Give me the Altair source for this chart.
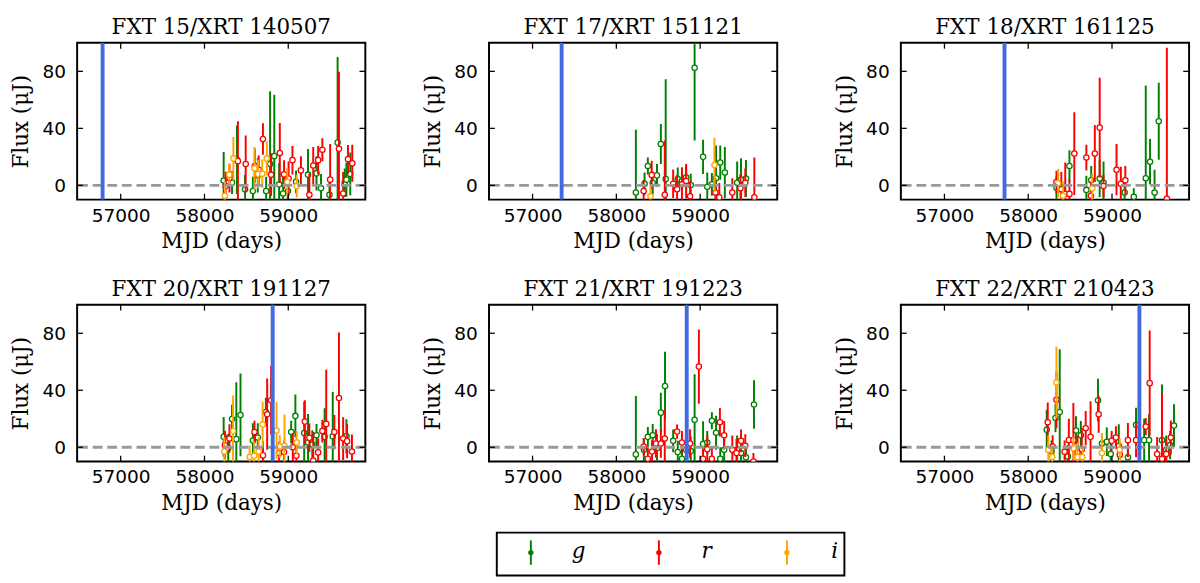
import altair as alt
import pandas as pd

# (MJD, flux in uJy, 1-sigma error) per field and band
FXT15_G = [
    (58229, 3.4, 20), (58329, 2.0, 8), (58388, 18.0, 24), (58484, -2.7, 10),
    (58578, -4.0, 10), (58636, 7.0, 12), (58736, -4.0, 10), (58783, 15.0, 51),
    (58833, 20.5, 43), (58891, 0.7, 15), (58938, -5.7, 12), (58996, -4.0, 10),
    (59093, 2.5, 8), (59236, 7.5, 18), (59337, 8.4, 12), (59391, -2.0, 10),
    (59492, -6.6, 12), (59589, 30.0, 60), (59674, 1.8, 10), (59694, 4.0, 12),
    (59740, 8.0, 15),
]
FXT15_R = [
    (58252, -0.5, 10), (58298, 5.0, 10), (58399, 17.0, 28), (58492, 15.0, 20),
    (58601, 13.6, 12), (58647, 11.0, 10), (58698, 32.5, 11), (58795, 7.5, 15),
    (58899, 22.7, 21), (58950, 7.7, 10), (59004, 4.8, 12), (59050, 17.7, 10),
    (59151, 10.5, 10), (59252, -6.6, 15), (59298, 13.9, 13), (59357, 17.7, 10),
    (59407, 25.0, 8), (59500, 4.0, 25), (59605, 25.7, 54), (59655, -5.7, 15),
    (59713, 18.4, 10), (59764, 15.5, 13),
]
FXT15_I = [
    (58244, -7.3, 10), (58295, 7.5, 8), (58345, 18.9, 15), (58597, 12.0, 15),
    (58640, 8.0, 10), (58690, 8.2, 10), (58744, 18.9, 12), (58988, 2.3, 10),
    (59101, -0.5, 8),
]

FXT17_G = [
    (58233, -5.0, 44), (58337, 1.1, 8), (58376, 13.6, 6), (58434, 1.8, 8),
    (58485, 7.0, 8), (58531, 29.0, 14), (58589, 4.5, 70), (58733, 4.5, 8),
    (58783, 3.0, 6), (58833, 5.7, 8), (58888, 0.2, 8), (58934, 82.5, 51),
    (59035, 20.0, 12), (59085, -1.0, 10), (59140, 0.7, 8), (59190, 5.0, 23),
    (59240, 16.0, 12), (59295, 9.0, 18), (59442, 1.8, 15), (59488, 4.0, 15),
    (59547, 4.8, 13),
]
FXT17_R = [
    (58326, -4.0, 8), (58422, 7.3, 10), (58578, -6.6, 38), (58678, 1.1, 10),
    (58725, -2.7, 10), (58783, 0.7, 12), (58833, 3.0, 12), (58880, -7.7, 10),
    (59182, -5.0, 10), (59229, -8.4, 10), (59384, -5.0, 10), (59481, -2.0, 10),
    (59539, 1.8, 10), (59647, -8.4, 28),
]
FXT17_I = [(58407, -7.7, 8), (59171, 14.3, 19)]

FXT18_G = [
    (58337, -1.6, 8), (58422, -6.6, 6), (58492, 13.6, 11), (58694, -3.2, 10),
    (58752, 3.6, 10), (58853, 4.8, 13), (58899, 1.8, 15), (59151, -5.0, 10),
    (59260, -8.0, 6), (59403, 5.0, 65), (59454, 16.6, 16), (59508, -5.0, 16),
    (59558, 45.0, 27),
]
FXT18_R = [
    (58337, 2.3, 8), (58395, -2.7, 12), (58442, -6.0, 22), (58492, -6.0, 10),
    (58550, 22.3, 29), (58694, 19.5, 9), (58748, -7.3, 10), (58795, 22.3, 20),
    (58853, 40.5, 35), (58899, -0.5, 8), (59054, 11.0, 18), (59105, 1.1, 12),
    (59159, 3.6, 10), (59655, -9.5, 106),
]
FXT18_I = [(58357, 1.4, 10), (58415, -7.3, 10), (58764, -2.0, 10)]

FXT20_G = [
    (58229, 7.3, 14), (58283, -0.7, 10), (58329, 19.8, 10), (58380, 5.7, 40),
    (58430, 22.7, 29), (58578, 4.8, 12), (58636, 6.8, 10), (58733, 24.8, 10),
    (59035, 10.7, 8), (59085, 22.0, 15), (59190, 10.0, 22), (59236, 3.4, 20),
    (59287, 2.0, 10), (59337, 8.4, 8), (59434, 7.3, 20), (59531, 7.7, 31),
    (59694, 7.7, 12),
]
FXT20_R = [
    (58244, 1.6, 10), (58298, 6.1, 10), (58597, 10.7, 8), (58698, -5.7, 10),
    (58748, 23.2, 25), (58795, 33.0, 24), (58891, -4.0, 8), (58950, -3.4, 8),
    (59054, 0.0, 10), (59097, -5.9, 8), (59198, 18.0, 15), (59252, 6.6, 10),
    (59298, -9.3, 20), (59357, -3.6, 10), (59407, 11.4, 8), (59453, 16.4, 38),
    (59550, 10.7, 12), (59605, 34.5, 46), (59655, 6.1, 15), (59702, 4.3, 12),
    (59760, -3.0, 12),
]
FXT20_I = [
    (58236, -3.0, 10), (58341, 11.4, 25), (58539, -6.8, 8), (58593, -5.9, 10),
    (58647, -3.0, 10), (58694, 16.0, 16), (58860, 11.8, 20), (58899, 0.5, 8),
    (58955, 1.0, 22), (59101, 3.4, 8),
]

FXT21_G = [
    (58233, -5.0, 41), (58329, -1.8, 8), (58376, 7.3, 7), (58434, 8.4, 8),
    (58485, -0.7, 10), (58531, 24.3, 14), (58581, 43.0, 24), (58678, 4.5, 8),
    (58733, -3.4, 8), (58783, -8.0, 6), (58833, -1.8, 8), (58888, -2.7, 10),
    (58934, 19.3, 32), (59035, 2.3, 16), (59085, 3.4, 8), (59140, 18.6, 6),
    (59190, 10.2, 12), (59240, -8.0, 8), (59287, -1.8, 10), (59442, -1.8, 10),
    (59488, -4.0, 10), (59547, -7.0, 8), (59643, 30.0, 17),
]
FXT21_R = [
    (58326, 0.5, 6), (58376, -8.0, 8), (58426, -3.0, 8), (58473, 2.7, 10),
    (58531, 2.7, 10), (58578, 6.1, 20), (58725, 11.0, 5), (58783, 3.4, 8),
    (58880, 2.7, 10), (58985, 56.6, 26), (59035, -8.0, 8), (59085, -1.4, 10),
    (59140, -8.0, 8), (59236, 17.5, 10), (59287, 8.4, 10), (59384, -1.8, 10),
    (59434, -4.0, 10), (59488, 4.5, 8), (59539, 1.1, 8), (59636, -10.0, 6),
]
FXT21_I = []

FXT22_G = [
    (58221, 12.3, 14), (58279, -3.0, 8), (58326, 20.5, 10), (58376, 24.8, 44),
    (58473, -6.4, 8), (58570, 11.8, 10), (58628, 8.4, 10), (58833, 33.0, 15),
    (58880, 2.7, 5), (58938, 3.9, 10), (58985, -4.8, 10), (59081, 1.1, 15),
    (59190, -7.0, 8), (59287, 15.7, 12), (59384, 5.0, 15), (59442, 5.0, 18),
    (59597, 5.0, 39), (59647, -1.8, 10), (59694, 1.6, 10), (59740, 15.2, 15),
]
FXT22_R = [
    (58233, 17.5, 14), (58291, 0.5, 8), (58337, 33.4, 20), (58434, -3.2, 8),
    (58485, 5.0, 15), (58539, 5.0, 26), (58589, -3.6, 12), (58640, -1.4, 15),
    (58686, 13.4, 12), (58744, 7.3, 25), (58841, 23.2, 13), (58996, 4.5, 7),
    (59047, 6.8, 8), (59093, -5.2, 8), (59190, 5.0, 12), (59287, 5.0, 12),
    (59403, 14.5, 6), (59450, 45.0, 37), (59539, -4.8, 12), (59597, -8.0, 46),
    (59647, -4.8, 10), (59702, 6.8, 12),
]
FXT22_I = [
    (58240, -1.8, 10), (58287, -6.8, 8), (58337, 45.5, 25), (58539, -0.7, 8),
    (58589, -6.8, 10), (58647, -6.8, 8), (58880, -4.0, 14), (59093, -1.8, 8),
]

TITLES = [
    "FXT 15/XRT 140507", "FXT 17/XRT 151121", "FXT 18/XRT 161125",
    "FXT 20/XRT 191127", "FXT 21/XRT 191223", "FXT 22/XRT 210423",
]
XRT_MJD = [56784, 57347, 57717, 58814, 58840, 59327]
PANEL_DATA = [
    (FXT15_G, FXT15_R, FXT15_I), (FXT17_G, FXT17_R, FXT17_I),
    (FXT18_G, FXT18_R, FXT18_I), (FXT20_G, FXT20_R, FXT20_I),
    (FXT21_G, FXT21_R, FXT21_I), (FXT22_G, FXT22_R, FXT22_I),
]

BANDS = ["g", "r", "i"]
BAND_COLORS = ["#008000", "#ff0000", "#ffa500"]
X_TICKS = [57000, 58000, 59000]
Y_TICKS = [0, 40, 80]

W, H = 296, 161
SERIF = "DejaVu Serif"
SANS = "DejaVu Sans"

x_scale = alt.Scale(domain=[56480, 59920], nice=False, zero=False)
y_scale = alt.Scale(domain=[-10, 100], nice=False, zero=False)
x_axis = alt.Axis(
    values=X_TICKS, format="d", ticks=False, tickSize=0, domain=False, grid=False,
    labelFont=SANS, labelFontSize=19, labelColor="black", labelPadding=7,
    title="MJD (days)", titleFont=SERIF, titleFontSize=22, titleFontWeight="normal",
    titleColor="black", titlePadding=6,
)
y_axis = alt.Axis(
    values=Y_TICKS, ticks=False, tickSize=0, domain=False, grid=False,
    labelFont=SANS, labelFontSize=19, labelColor="black", labelPadding=12,
    title="Flux (μJ)", titleFont=SERIF, titleFontSize=22, titleFontWeight="normal",
    titleColor="black", titlePadding=10,
)


def xq(field):
    return alt.X(field, type="quantitative", scale=x_scale, axis=x_axis)


def yq(field):
    return alt.Y(field, type="quantitative", scale=y_scale, axis=y_axis)


def panel(title, xrt_mjd, band_rows):
    layers = []
    for band, color, rows in zip(BANDS, BAND_COLORS, band_rows):
        if not rows:
            continue
        df = pd.DataFrame(rows, columns=["mjd", "flux", "err"])
        df["lo"] = df["flux"] - df["err"]
        df["hi"] = df["flux"] + df["err"]
        bars = alt.Chart(df).mark_rule(color=color, strokeWidth=2, clip=True).encode(
            x=xq("mjd"), y=yq("lo"), y2="hi"
        )
        dots = alt.Chart(df).mark_circle(
            fill="white", stroke=color, strokeWidth=1.3, size=30, opacity=1, clip=True
        ).encode(x=xq("mjd"), y=yq("flux"))
        layers += [bars, dots]

    zero = alt.Chart(pd.DataFrame({"z": [0]})).mark_rule(
        color="#999999", strokeWidth=3, strokeDash=[10, 5]
    ).encode(y=yq("z"))
    xrt = alt.Chart(pd.DataFrame({"mjd": [xrt_mjd]})).mark_rule(
        color="#4169e1", strokeWidth=4
    ).encode(x=xq("mjd"))

    # inward ticks on all four sides
    xt = alt.Chart(pd.DataFrame({"t": X_TICKS}))
    yt = alt.Chart(pd.DataFrame({"t": Y_TICKS}))
    tick = dict(color="black", strokeWidth=1.3)
    ticks = [
        xt.mark_rule(**tick).encode(x=xq("t"), y=alt.value(0), y2=alt.value(6)),
        xt.mark_rule(**tick).encode(x=xq("t"), y=alt.value(H - 6), y2=alt.value(H)),
        yt.mark_rule(**tick).encode(y=yq("t"), x=alt.value(0), x2=alt.value(6)),
        yt.mark_rule(**tick).encode(y=yq("t"), x=alt.value(W - 6), x2=alt.value(W)),
    ]

    return alt.layer(*layers, zero, xrt, *ticks).properties(
        width=W,
        height=H,
        title=alt.TitleParams(
            title, font=SERIF, fontSize=22, fontWeight="normal", color="black", offset=2
        ),
    )


panels = [panel(t, m, d) for t, m, d in zip(TITLES, XRT_MJD, PANEL_DATA)]
row1 = alt.hconcat(*panels[:3], spacing=53)
row2 = alt.hconcat(*panels[3:], spacing=53)

# custom legend box
leg_df = pd.DataFrame({"band": BANDS})
leg_x = alt.X("band:N", scale=alt.Scale(type="point", domain=BANDS, range=[35, 298], padding=0), axis=None)
leg_color = alt.Color("band:N", scale=alt.Scale(domain=BANDS, range=BAND_COLORS), legend=None)
leg_base = alt.Chart(leg_df)
legend = alt.layer(
    leg_base.mark_rule(strokeWidth=2).encode(x=leg_x, y=alt.value(8), y2=alt.value(33), color=leg_color),
    leg_base.mark_circle(size=30, opacity=1).encode(x=leg_x, y=alt.value(20.5), color=leg_color),
    leg_base.mark_text(
        dx=49, font=SERIF, fontStyle="italic", fontSize=22, color="black", baseline="middle"
    ).encode(x=leg_x, y=alt.value(19), text="band:N"),
).properties(width=357, height=44)

spacer = alt.Chart(leg_df).mark_point(opacity=0).encode(
    x=alt.value(0), y=alt.value(0)
).properties(width=429, height=44, view=alt.ViewBackground(stroke="transparent"))

legend_row = alt.hconcat(spacer, legend, spacing=0)

chart = (
    alt.vconcat(alt.vconcat(row1, row2, spacing=26), legend_row, spacing=15)
    .properties(padding=0)
    .configure_view(stroke="black", strokeWidth=2)
)

chart.save("out.html", embed_options={"renderer": "svg", "actions": False})
